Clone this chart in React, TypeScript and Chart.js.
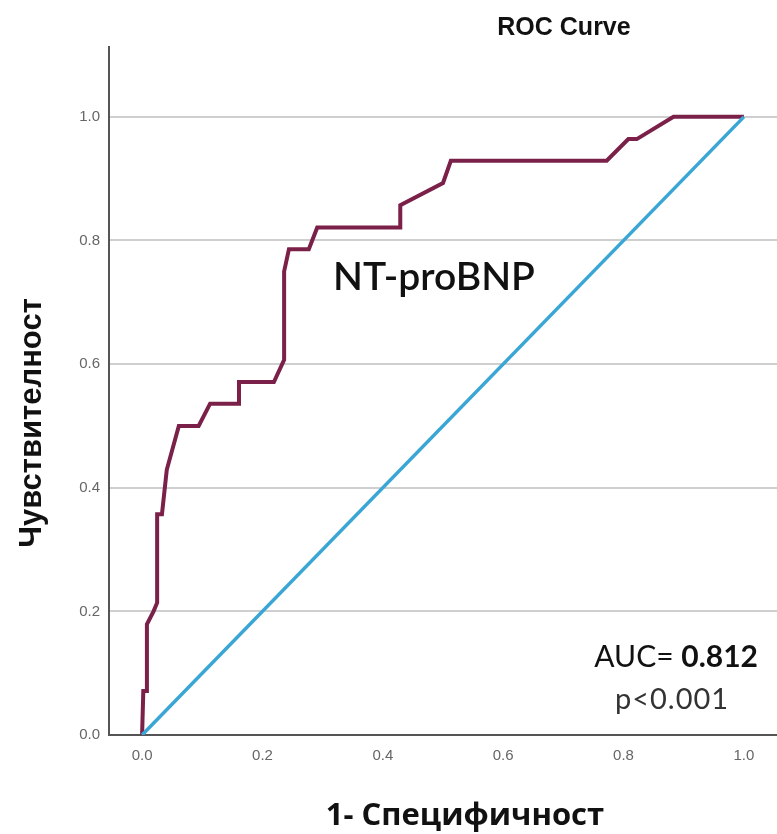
import React, { useEffect, useRef } from "react";
import { Chart, registerables } from "chart.js";

Chart.register(...registerables);

const fpr = [0, 0.002, 0.008, 0.008, 0.019, 0.025, 0.025, 0.033, 0.041, 0.061, 0.094, 0.113, 0.161, 0.161, 0.219, 0.236, 0.236, 0.244, 0.277, 0.291, 0.429, 0.429, 0.5, 0.513, 0.772, 0.808, 0.822, 0.883, 1];
const tpr = [0, 0.071, 0.071, 0.179, 0.2, 0.214, 0.357, 0.357, 0.429, 0.5, 0.5, 0.536, 0.536, 0.571, 0.571, 0.607, 0.75, 0.786, 0.786, 0.821, 0.821, 0.857, 0.893, 0.929, 0.929, 0.964, 0.964, 1, 1];
const refX = [0, 1];
const refY = [0, 1];
const tickValues = [0, 0.2, 0.4, 0.6, 0.8, 1.0];

const chartTitle = "ROC Curve";
const xTitle = "1- Специфичност";
const yTitle = "Чувствителност";
const curveLabel = "NT-proBNP";
const aucLabel = "AUC= ";
const aucValue = "0.812";
const pLabel = "p<0.001";

const textPlugin = {
  id: "texts",
  afterDraw(chart: any) {
    const ctx = chart.ctx;
    ctx.save();
    ctx.fillStyle = "#111";
    // title
    ctx.font = "bold 25px 'Liberation Sans', Arial, sans-serif";
    ctx.textAlign = "center";
    ctx.textBaseline = "alphabetic";
    ctx.fillText(chartTitle, 564, 35);
    // x title
    ctx.font = "bold 31px 'Open Sans', sans-serif";
    ctx.fillText(xTitle, 465, 825);
    // y title
    ctx.save();
    ctx.translate(41, 423);
    ctx.rotate(-Math.PI / 2);
    ctx.font = "bold 31px 'Liberation Sans', Arial, sans-serif";
    ctx.textAlign = "center";
    ctx.fillText(yTitle, 0, 0);
    ctx.restore();
    // curve label
    ctx.textAlign = "left";
    ctx.font = "600 39px Lato, sans-serif";
    ctx.fillText(curveLabel, 333, 290);
    // AUC
    ctx.font = "30px Lato, sans-serif";
    const w1 = ctx.measureText(aucLabel).width;
    ctx.font = "bold 30px Lato, sans-serif";
    const w2 = ctx.measureText(aucValue).width;
    const right = 758;
    const startX = right - w1 - w2;
    ctx.font = "30px Lato, sans-serif";
    ctx.fillText(aucLabel, startX, 667);
    ctx.font = "bold 30px Lato, sans-serif";
    ctx.fillText(aucValue, startX + w1, 667);
    // p value
    ctx.font = "29px Lato, sans-serif";
    ctx.fillStyle = "#333";
    ctx.textAlign = "center";
    (ctx as any).letterSpacing = "1px";
    ctx.fillText(pLabel, 672, 709);
    (ctx as any).letterSpacing = "0px";
    ctx.restore();
  },
};

export default function App() {
  const ref = useRef<HTMLCanvasElement>(null);
  useEffect(() => {
    if (!ref.current) return;
    const chart = new Chart(ref.current, {
      type: "scatter",
      data: {
        datasets: [
          {
            label: "Reference",
            data: refX.map((x, i) => ({ x, y: refY[i] })),
            showLine: true,
            borderColor: "#3aa6d6",
            borderWidth: 3.5,
            pointRadius: 0,
            tension: 0,
          },
          {
            label: curveLabel,
            data: fpr.map((x, i) => ({ x, y: tpr[i] })),
            showLine: true,
            borderColor: "#7a2049",
            borderWidth: 4,
            pointRadius: 0,
            tension: 0,
            borderJoinStyle: "miter",
          },
        ],
      },
      options: {
        responsive: false,
        animation: false,
        layout: { padding: { top: 47, left: 0, right: 0, bottom: 0 } },
        plugins: {
          legend: { display: false },
          tooltip: { enabled: false },
          title: { display: false },
        },
        scales: {
          x: {
            type: "linear",
            min: -0.055,
            max: 1.055,
            afterBuildTicks: (scale: any) => {
              scale.ticks = tickValues.map((v) => ({ value: v }));
            },
            afterFit: (scale: any) => {
              scale.height = 99;
            },
            grid: { display: false, drawTicks: false },
            border: { display: true, color: "#555", width: 2 },
            ticks: {
              padding: 12,
              color: "#666",
              font: { family: "'Liberation Sans', Arial, sans-serif", size: 15 },
              callback: (v: any) => Number(v).toFixed(1),
            },
          },
          y: {
            type: "linear",
            min: 0,
            max: 1.113,
            afterBuildTicks: (scale: any) => {
              scale.ticks = tickValues.map((v) => ({ value: v }));
            },
            afterFit: (scale: any) => {
              scale.width = 109;
            },
            grid: { display: true, drawTicks: false, color: "#cfcfcf", lineWidth: 2 },
            border: { display: true, color: "#555", width: 2 },
            ticks: {
              padding: 9,
              color: "#666",
              font: { family: "'Liberation Sans', Arial, sans-serif", size: 15 },
              callback: (v: any) => Number(v).toFixed(1),
            },
          },
        },
      },
      plugins: [textPlugin],
    });
    return () => chart.destroy();
  }, []);
  return (
    <div style={{ position: "absolute", left: 0, top: 0, width: 777, height: 834, background: "#fff" }}>
      <canvas ref={ref} width={777} height={834} style={{ display: "block" }} />
    </div>
  );
}
